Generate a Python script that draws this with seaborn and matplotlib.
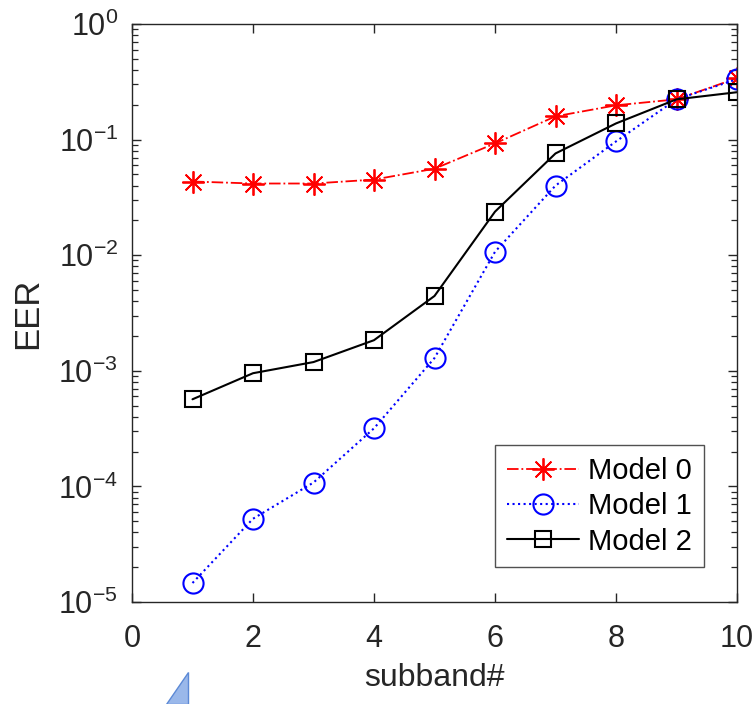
import numpy as np
import pandas as pd
import matplotlib
matplotlib.use("Agg")
import matplotlib.pyplot as plt
import seaborn as sns
from matplotlib.patches import Polygon
from matplotlib.ticker import FixedLocator, NullFormatter, FuncFormatter

subband = [1, 2, 3, 4, 5, 6, 7, 8, 9, 10]
model0 = [0.0434, 0.0417, 0.0417, 0.0451, 0.056, 0.0927, 0.159, 0.198, 0.223, 0.34]
model1 = [1.46e-5, 5.25e-5, 1.08e-4, 3.18e-4, 1.29e-3, 0.0107, 0.040, 0.0964, 0.223, 0.333]
model2 = [5.67e-4, 9.53e-4, 1.19e-3, 1.84e-3, 4.44e-3, 0.0238, 0.0759, 0.138, 0.223, 0.257]
labels = ["Model 0", "Model 1", "Model 2"]
xticks = [0, 2, 4, 6, 8, 10]
yexps = [-5, -4, -3, -2, -1, 0]

sns.set_style("white")
plt.rcParams["font.family"] = ["Liberation Sans", "DejaVu Sans"]
plt.rcParams["mathtext.fontset"] = "custom"
plt.rcParams["mathtext.rm"] = "Liberation Sans"
plt.rcParams["mathtext.it"] = "Liberation Sans:italic"
plt.rcParams["mathtext.bf"] = "Liberation Sans:bold"
plt.rcParams["mathtext.default"] = "regular"

gray = "#262626"
fig = plt.figure(figsize=(7.55, 7.04), dpi=100)
ax = fig.add_axes([132 / 755, 1 - 602 / 704, (737 - 132) / 755, (602 - 24) / 704])

styles = [
    dict(color="#ff0000", linestyle="-.", marker=(8, 2, 0), markersize=16,
         markeredgewidth=1.3, markeredgecolor="#ff0000", lw=1.3),
    dict(color="#0000ff", linestyle=":", marker="o", markersize=14.5,
         markeredgewidth=1.5, markeredgecolor="#0000ff", lw=1.5,
         markerfacecolor="none"),
    dict(color="#000000", linestyle="-", marker="s", markersize=12,
         markeredgewidth=1.5, markeredgecolor="#000000", lw=1.5,
         markerfacecolor="none"),
]
for vals, lab, st in zip([model0, model1, model2], labels, styles):
    df = pd.DataFrame({"subband": subband, "EER": vals})
    sns.lineplot(data=df, x="subband", y="EER", ax=ax, label=lab, **st)

ax.set_yscale("log")
ax.set_xlim(0, 10)
ax.set_ylim(1e-5, 1)
ax.xaxis.set_major_locator(FixedLocator(xticks))
ax.yaxis.set_major_locator(FixedLocator([10.0 ** e for e in yexps]))
minor = [m * 10.0 ** e for e in yexps[:-1] for m in range(2, 10)]
ax.yaxis.set_minor_locator(FixedLocator(minor))
ax.yaxis.set_minor_formatter(NullFormatter())
ax.yaxis.set_major_formatter(FuncFormatter(
    lambda v, p: r"$10^{%d}$" % int(round(np.log10(v)))))

for s in ax.spines.values():
    s.set_color(gray)
    s.set_linewidth(1.0)
ax.tick_params(which="both", direction="in", left=True, bottom=True, top=True,
               right=True, colors=gray, labelcolor=gray)
ax.tick_params(which="major", length=6.5, width=1.0, labelsize=22)
ax.tick_params(which="minor", length=4, width=0.9)
ax.tick_params(axis="x", which="minor", bottom=False, top=False)
ax.tick_params(axis="x", pad=16)
ax.tick_params(axis="y", pad=10)

ax.set_xlabel("subband#", fontsize=23, color=gray, labelpad=6)
ax.set_ylabel("EER", fontsize=25, color=gray, labelpad=10)

leg = ax.legend(loc="lower right", bbox_to_anchor=(0.945, 0.06), borderaxespad=0,
                fontsize=21, frameon=True, fancybox=False, handlelength=2.5,
                handletextpad=0.3, labelspacing=0.25, borderpad=0.4)
leg.get_frame().set_edgecolor(gray)
leg.get_frame().set_linewidth(1.0)
for t in leg.get_texts():
    t.set_color("black")

# small blue triangle artifact at the bottom of the picture
tri = Polygon([(188 / 755, 1 - 672 / 704), (188 / 755, 0), (166 / 755, 0)],
              closed=True, transform=fig.transFigure, facecolor="#9ab8ea",
              edgecolor="#5d8ad6", lw=1)
fig.patches.append(tri)

fig.savefig("out.png", dpi=100)
